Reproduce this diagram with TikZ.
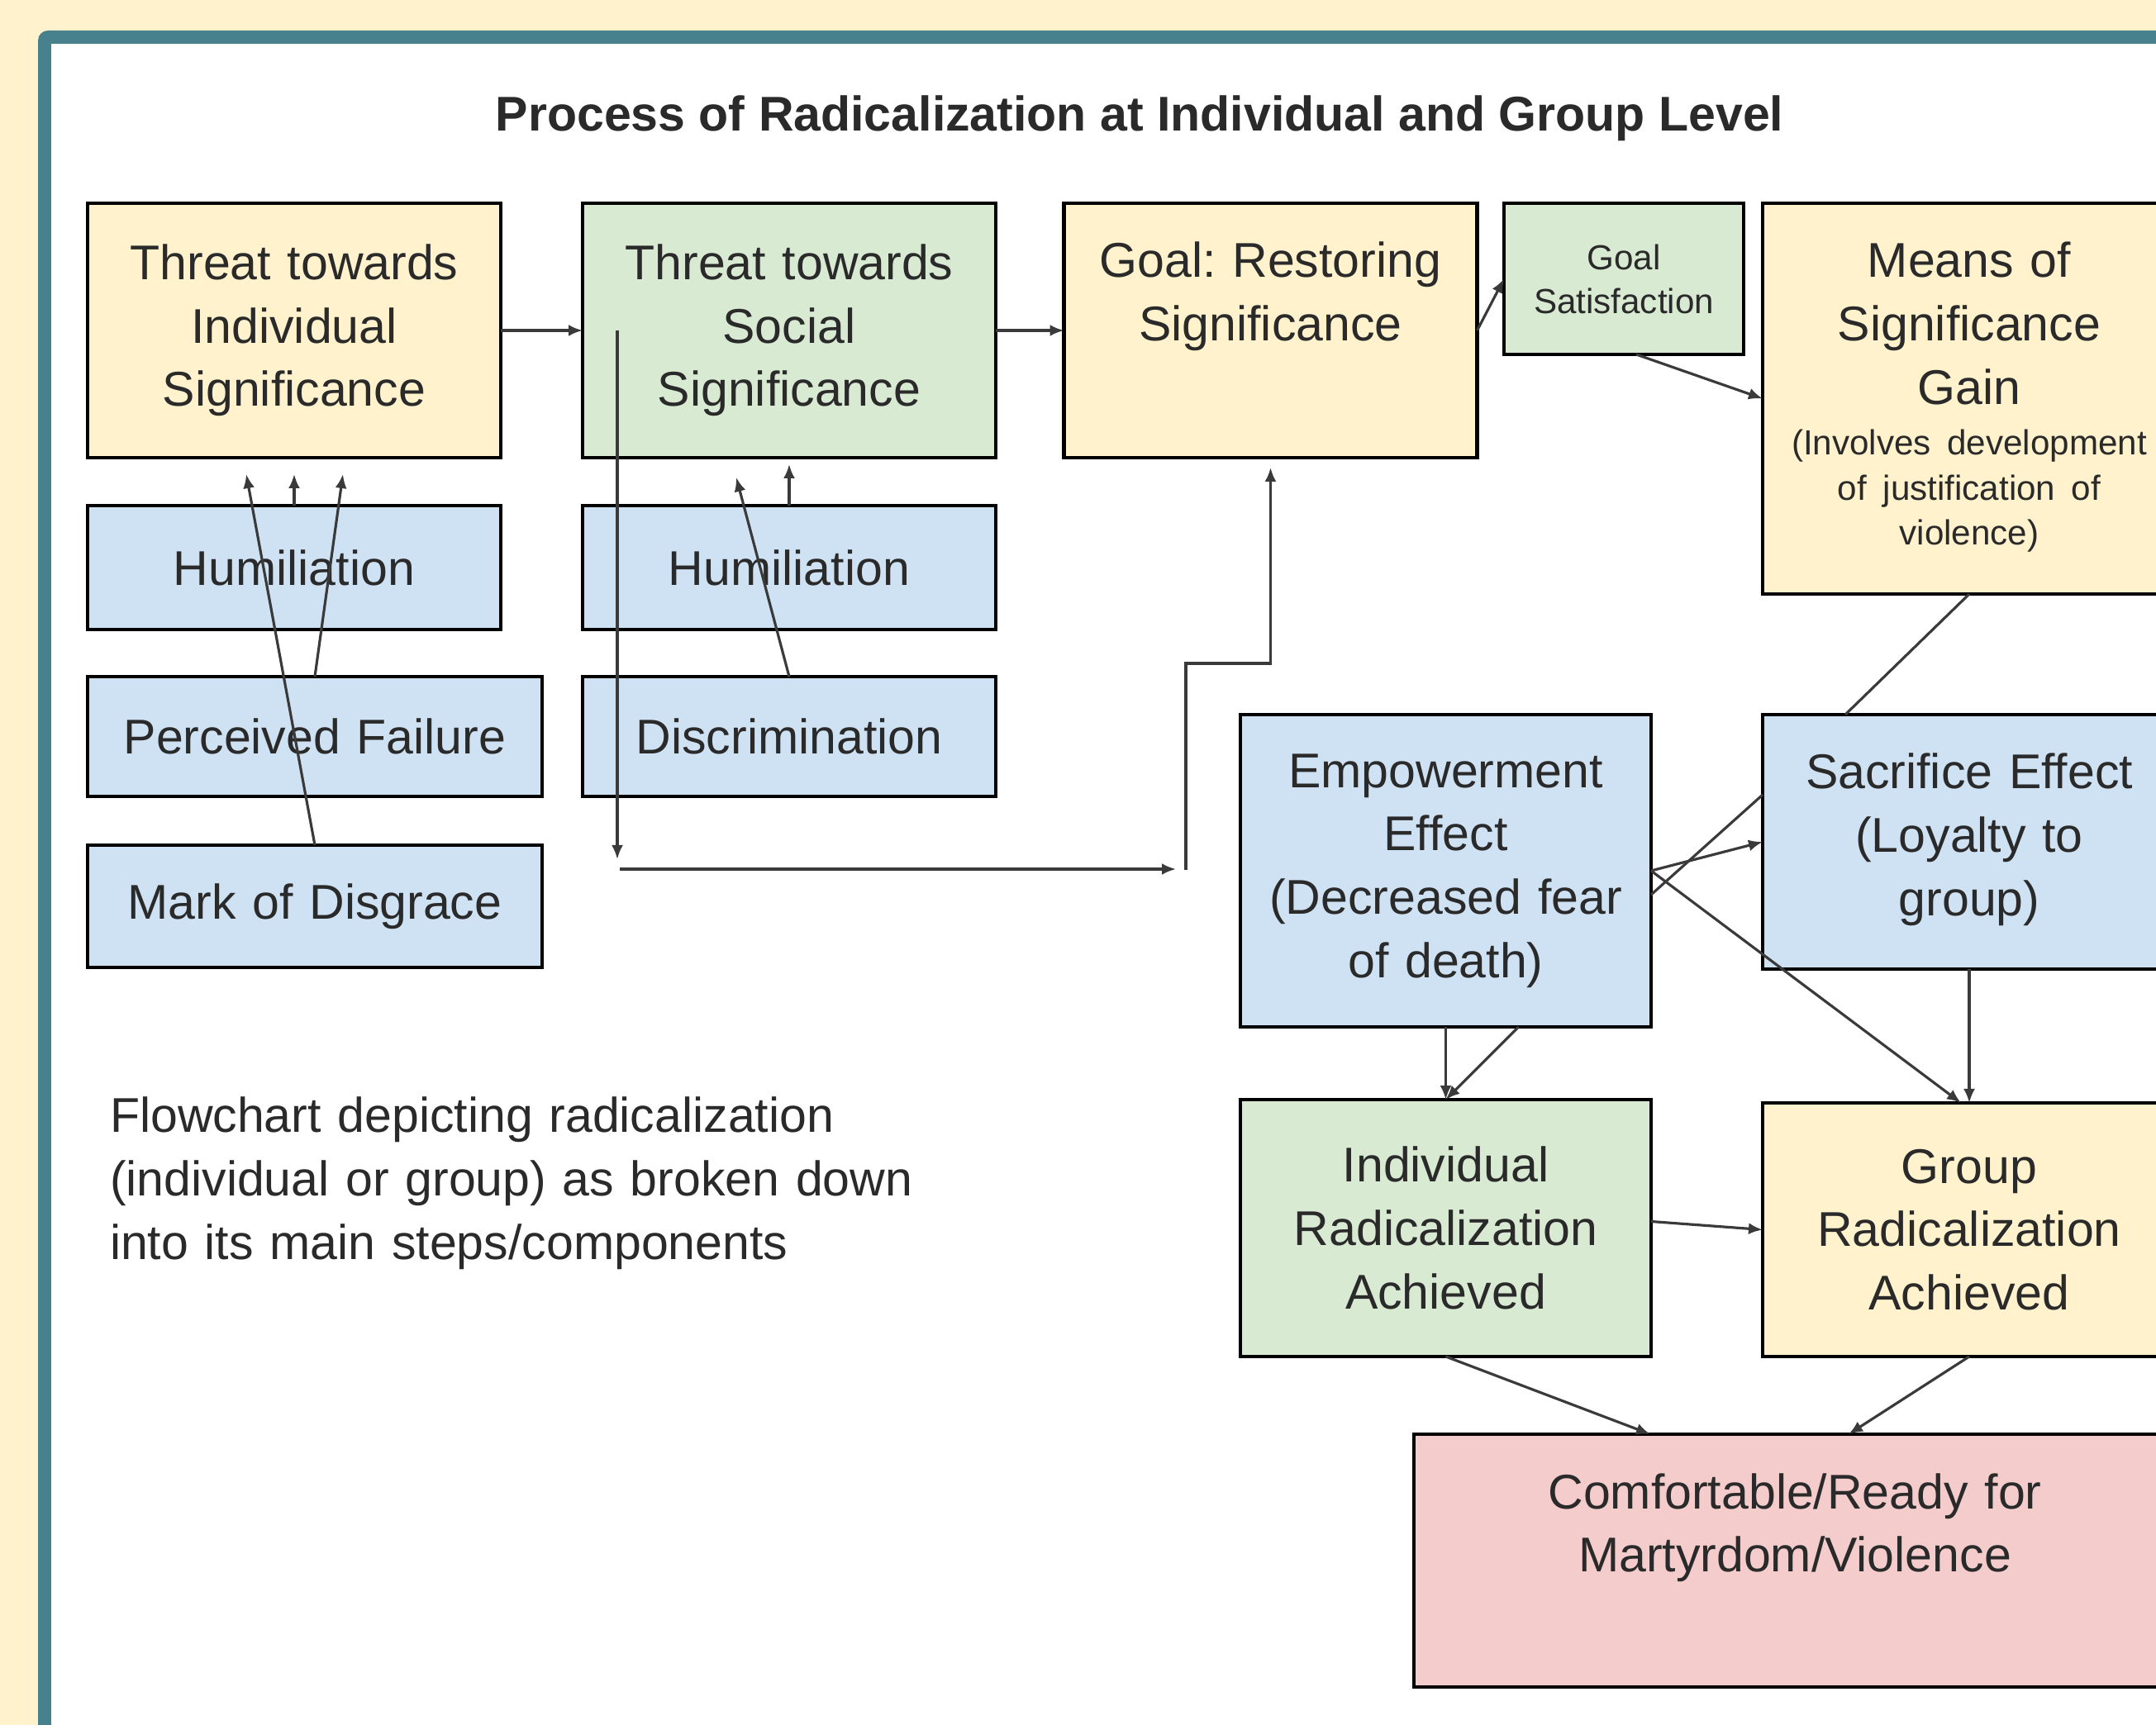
\documentclass[tikz,border=0pt]{standalone}
\usepackage{fontspec}
\setmainfont{Liberation Sans}
\usetikzlibrary{arrows.meta}
\definecolor{cream}{HTML}{FFF2CC}
\definecolor{mint}{HTML}{D9EAD3}
\definecolor{sky}{HTML}{CFE2F3}
\definecolor{blush}{HTML}{F4CCCC}
\definecolor{frametone}{RGB}{70,129,141}
\definecolor{ink}{HTML}{2A2A2A}
\definecolor{wire}{HTML}{3A3A3A}
\frenchspacing
\begin{document}
\begin{tikzpicture}[inner sep=0pt,outer sep=0pt,>={Latex[length=0.17cm,width=0.14cm]},
box/.style={draw=black,rectangle,line width=1.4pt,align=center,text=ink,font=\fontsize{16.8}{21.8}\selectfont},
topbox/.style={box,text height=0.9cm,text depth=#1},
wire/.style={draw=wire,line width=0.9pt}]
\useasboundingbox (0,0) rectangle (26.09,-20.88);
\clip (0,0) rectangle (26.09,-20.88);
\fill[cream] (0,0) rectangle (26.09,-20.88);
\fill[frametone,rounded corners=0.12cm] (0.46,-0.37) rectangle (27,-22);
\fill[white] (0.62,-0.53) rectangle (27,-22);

\draw (13.79,-1.59) node[anchor=base,text=ink,font=\bfseries\fontsize{16.8}{20}\selectfont] (title) {Process of Radicalization at Individual and Group Level};

\draw (3.56,-4.00) node[box,fill=cream,text width=5cm,minimum height=3.08cm] (indiv) {Threat towards\\Individual\\Significance};
\draw (9.55,-4.00) node[box,fill=mint,text width=5cm,minimum height=3.08cm] (social) {Threat towards\\Social\\Significance};
\draw (15.375,-4.00) node[topbox=2.18cm,fill=cream,text width=5cm] (goal) {Goal: Restoring\\Significance};
\draw (19.65,-3.375) node[box,fill=mint,text width=2.9cm,minimum height=1.83cm,font=\fontsize{12}{15.1}\selectfont] (goalsat) {Goal\\Satisfaction};
\draw (23.83,-4.825) node[topbox=3.83cm,fill=cream,text width=5cm] (means) {Means of\\Significance\\Gain\par\vspace{2pt}{\fontsize{12}{15.5}\selectfont (Involves development\\of justification of\\violence)\par}};

\draw (3.56,-6.87) node[box,fill=sky,text width=5cm,minimum height=1.5cm] (hum1) {Humiliation};
\draw (3.81,-8.915) node[box,fill=sky,text width=5.5cm,minimum height=1.45cm] (fail) {Perceived Failure};
\draw (3.81,-10.97) node[box,fill=sky,text width=5.5cm,minimum height=1.48cm] (mark) {Mark of Disgrace};
\draw (9.55,-6.87) node[box,fill=sky,text width=5cm,minimum height=1.5cm] (hum2) {Humiliation};
\draw (9.55,-8.915) node[box,fill=sky,text width=5cm,minimum height=1.45cm] (discr) {Discrimination};

\draw (17.495,-10.54) node[box,fill=sky,text width=4.97cm,minimum height=3.78cm] (empower) {Empowerment\\Effect\\(Decreased fear\\of death)};
\draw (23.83,-10.19) node[topbox=2.18cm,fill=sky,text width=5cm] (sacrifice) {Sacrifice Effect\\(Loyalty to\\group)};
\draw (17.495,-14.865) node[box,fill=mint,text width=4.97cm,minimum height=3.11cm] (indivrad) {Individual\\Radicalization\\Achieved};
\draw (23.83,-14.885) node[box,fill=cream,text width=5cm,minimum height=3.07cm] (grouprad) {Group\\Radicalization\\Achieved};
\draw (21.72,-18.89) node[topbox=2.16cm,fill=blush,text width=9.22cm] (ready) {Comfortable/Ready for\\Martyrdom/Violence};

\draw (1.33,-13.28) node[anchor=north west,align=left,text width=10.5cm,text=ink,font=\fontsize{16.8}{21.8}\selectfont] (caption) {Flowchart depicting radicalization\\(individual or group) as broken down\\into its main steps/components};

\coordinate (droptop) at (7.47,-4.00);
\coordinate (dropend) at (7.47,-10.40);
\coordinate (runstart) at (7.50,-10.52);
\coordinate (runend) at (14.23,-10.52);
\coordinate (risestart) at (14.35,-10.53);
\coordinate (bend) at (15.375,-8.03);

\draw[wire,->] (indiv.east) -- (social.west);
\draw[wire,->] (droptop) -- (dropend);
\draw[wire,->] (runstart) -- (runend);
\draw[wire,->] (risestart) |- (bend) -- ([yshift=-0.12cm]goal.south);
\draw[wire,->] (hum1.north) -- ([yshift=-0.2cm]indiv.south);
\draw[wire,->] (fail.north) -- ([xshift=0.59cm,yshift=-0.2cm]indiv.south);
\draw[wire,->] (mark.north) -- ([xshift=-0.58cm,yshift=-0.2cm]indiv.south);
\draw[wire,->] (hum2.north) -- ([yshift=-0.08cm]social.south);
\draw[wire,->] (discr.north) -- ([xshift=-0.64cm,yshift=-0.24cm]social.south);
\draw[wire,->] (social.east) -- (goal.west);
\draw[wire,->] (goal.east) -- (goalsat.west);
\draw[wire,->] ([xshift=0.15cm]goalsat.south) -- (means.west);
\draw[wire] (means.south) -- ([xshift=-1.5cm]sacrifice.north);
\draw[wire] ([yshift=-0.29cm]empower.east) -- ([yshift=0.57cm]sacrifice.west);
\draw[wire,->] (empower.east) -- (sacrifice.west);
\draw[wire,->] (empower.east) -- ([xshift=-0.1cm]grouprad.north);
\draw[wire,->] (sacrifice.south) -- (grouprad.north);
\draw[wire,->] (empower.south) -- (indivrad.north);
\draw[wire,->] ([xshift=0.88cm]empower.south) -- (indivrad.north);
\draw[wire,->] ([yshift=0.08cm]indivrad.east) -- (grouprad.west);
\draw[wire,->] (indivrad.south) -- ([xshift=-1.75cm]ready.north);
\draw[wire,->] (grouprad.south) -- ([xshift=0.65cm]ready.north);
\end{tikzpicture}
\end{document}
